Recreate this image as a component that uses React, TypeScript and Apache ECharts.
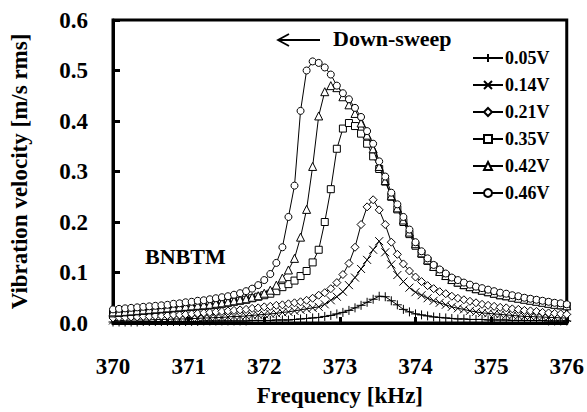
import React, { useEffect, useRef } from "react";
import * as echarts from "echarts";

// Frequency grid [kHz]
const freqs = [
  370.00, 370.08, 370.16, 370.24, 370.32, 370.40, 370.48, 370.56, 370.64, 370.72,
  370.80, 370.88, 370.96, 371.04, 371.12, 371.20, 371.28, 371.36, 371.44, 371.52,
  371.60, 371.68, 371.76, 371.84, 371.92, 372.00, 372.08, 372.16, 372.24, 372.32,
  372.40, 372.48, 372.56, 372.64, 372.72, 372.80, 372.88, 372.96, 373.04, 373.12,
  373.20, 373.28, 373.36, 373.44, 373.52, 373.60, 373.68, 373.76, 373.84, 373.92,
  374.00, 374.08, 374.16, 374.24, 374.32, 374.40, 374.48, 374.56, 374.64, 374.72,
  374.80, 374.88, 374.96, 375.04, 375.12, 375.20, 375.28, 375.36, 375.44, 375.52,
  375.60, 375.68, 375.76, 375.84, 375.92, 376.00,
];

const v005 = [
  0.002, 0.002, 0.002, 0.002, 0.002, 0.003, 0.003, 0.003, 0.003, 0.003,
  0.003, 0.003, 0.003, 0.003, 0.003, 0.004, 0.004, 0.004, 0.004, 0.004,
  0.004, 0.004, 0.004, 0.005, 0.005, 0.005, 0.005, 0.006, 0.006, 0.006,
  0.007, 0.008, 0.009, 0.010, 0.011, 0.013, 0.015, 0.018, 0.021, 0.025,
  0.030, 0.035, 0.041, 0.047, 0.053, 0.052, 0.044, 0.036, 0.027, 0.022,
  0.018, 0.016, 0.014, 0.012, 0.011, 0.010, 0.009, 0.008, 0.008, 0.007,
  0.007, 0.007, 0.006, 0.006, 0.006, 0.006, 0.005, 0.005, 0.005, 0.005,
  0.005, 0.005, 0.004, 0.004, 0.004, 0.004,
];

const v014 = [
  0.005, 0.005, 0.005, 0.006, 0.006, 0.006, 0.006, 0.007, 0.007, 0.007,
  0.008, 0.008, 0.008, 0.009, 0.009, 0.010, 0.010, 0.011, 0.011, 0.012,
  0.013, 0.013, 0.014, 0.015, 0.016, 0.017, 0.018, 0.019, 0.021, 0.022,
  0.024, 0.026, 0.028, 0.030, 0.032, 0.037, 0.045, 0.052, 0.062, 0.075,
  0.090, 0.107, 0.125, 0.145, 0.162, 0.140, 0.116, 0.095, 0.082, 0.070,
  0.061, 0.055, 0.049, 0.044, 0.040, 0.036, 0.032, 0.029, 0.027, 0.024,
  0.022, 0.020, 0.019, 0.018, 0.017, 0.016, 0.015, 0.014, 0.013, 0.013,
  0.012, 0.012, 0.011, 0.011, 0.010, 0.010,
];

const v021 = [
  0.010, 0.011, 0.011, 0.012, 0.012, 0.013, 0.013, 0.014, 0.014, 0.015,
  0.016, 0.016, 0.017, 0.018, 0.019, 0.020, 0.021, 0.022, 0.023, 0.024,
  0.025, 0.026, 0.027, 0.029, 0.030, 0.032, 0.033, 0.035, 0.036, 0.038,
  0.040, 0.042, 0.045, 0.049, 0.055, 0.060, 0.068, 0.080, 0.096, 0.118,
  0.150, 0.195, 0.230, 0.244, 0.224, 0.195, 0.160, 0.136, 0.117, 0.103,
  0.091, 0.082, 0.074, 0.068, 0.062, 0.058, 0.053, 0.049, 0.046, 0.043,
  0.040, 0.037, 0.035, 0.033, 0.031, 0.030, 0.028, 0.027, 0.025, 0.024,
  0.023, 0.021, 0.020, 0.019, 0.018, 0.017,
];

const v035 = [
  0.019, 0.020, 0.021, 0.022, 0.023, 0.024, 0.025, 0.026, 0.027, 0.028,
  0.029, 0.030, 0.031, 0.032, 0.033, 0.034, 0.035, 0.036, 0.038, 0.040,
  0.042, 0.044, 0.046, 0.049, 0.052, 0.055, 0.058, 0.063, 0.071, 0.077,
  0.084, 0.093, 0.103, 0.120, 0.145, 0.200, 0.265, 0.345, 0.385, 0.396,
  0.390, 0.375, 0.355, 0.330, 0.305, 0.280, 0.250, 0.225, 0.200, 0.176,
  0.153, 0.137, 0.123, 0.112, 0.102, 0.093, 0.086, 0.080, 0.075, 0.071,
  0.067, 0.064, 0.061, 0.058, 0.055, 0.053, 0.051, 0.049, 0.047, 0.045,
  0.043, 0.041, 0.039, 0.037, 0.035, 0.034,
];

const v042 = [
  0.022, 0.022, 0.023, 0.024, 0.025, 0.026, 0.027, 0.028, 0.029, 0.030,
  0.031, 0.032, 0.033, 0.034, 0.035, 0.036, 0.037, 0.039, 0.040, 0.042,
  0.044, 0.046, 0.048, 0.051, 0.054, 0.059, 0.065, 0.075, 0.089, 0.105,
  0.128, 0.170, 0.225, 0.310, 0.410, 0.458, 0.470, 0.466, 0.448, 0.432,
  0.415, 0.396, 0.372, 0.345, 0.310, 0.282, 0.252, 0.228, 0.204, 0.180,
  0.157, 0.139, 0.125, 0.112, 0.102, 0.094, 0.086, 0.081, 0.076, 0.072,
  0.068, 0.065, 0.062, 0.059, 0.056, 0.054, 0.051, 0.049, 0.047, 0.045,
  0.043, 0.041, 0.039, 0.037, 0.036, 0.034,
];

const v046 = [
  0.027, 0.028, 0.029, 0.030, 0.031, 0.032, 0.033, 0.034, 0.035, 0.036,
  0.038, 0.039, 0.041, 0.042, 0.044, 0.045, 0.047, 0.049, 0.051, 0.053,
  0.056, 0.059, 0.063, 0.068, 0.075, 0.085, 0.097, 0.119, 0.150, 0.210,
  0.272, 0.420, 0.500, 0.518, 0.515, 0.506, 0.492, 0.470, 0.455, 0.443,
  0.426, 0.408, 0.380, 0.355, 0.320, 0.290, 0.258, 0.235, 0.210, 0.185,
  0.160, 0.142, 0.128, 0.115, 0.106, 0.098, 0.090, 0.085, 0.080, 0.076,
  0.072, 0.069, 0.066, 0.063, 0.060, 0.058, 0.055, 0.053, 0.050, 0.048,
  0.046, 0.044, 0.042, 0.040, 0.039, 0.037,
];

const seriesNames = ["0.05V", "0.14V", "0.21V", "0.35V", "0.42V", "0.46V"];
const seriesValues = [v005, v014, v021, v035, v042, v046];
const xTicks = [370, 371, 372, 373, 374, 375, 376];
const yTicks = [0, 0.1, 0.2, 0.3, 0.4, 0.5, 0.6];

const FONT = "'Liberation Serif', 'Times New Roman', serif";

const markerDefs = [
  { symbol: "path://M5,0L5,10M0,5L10,5", size: 9 },
  { symbol: "path://M0,0L10,10M10,0L0,10", size: 8 },
  { symbol: "diamond", size: 8 },
  { symbol: "rect", size: 7 },
  { symbol: "triangle", size: 8 },
  { symbol: "circle", size: 7 },
];

export default function App() {
  const ref = useRef<HTMLDivElement>(null);
  useEffect(() => {
    if (!ref.current) return;
    const chart = echarts.init(ref.current, null, { renderer: "svg" });
    const series = seriesNames.map((name, k) => ({
      name,
      type: "line",
      data: freqs.map((f, i) => [f, seriesValues[k][i]]),
      symbol: markerDefs[k].symbol,
      symbolSize: markerDefs[k].size,
      showAllSymbol: true,
      lineStyle: { color: "#000", width: 1 },
      itemStyle: { color: "#fff", borderColor: "#000", borderWidth: 1 },
      emphasis: { disabled: true },
      z: 2 + k,
    }));
    chart.setOption({
      animation: false,
      backgroundColor: "#fff",
      grid: {
        left: 113,
        right: 19,
        top: 20,
        bottom: 89,
        show: true,
        borderColor: "#000",
        borderWidth: 3,
        backgroundColor: "transparent",
      },
      xAxis: {
        type: "value",
        min: xTicks[0],
        max: xTicks[xTicks.length - 1],
        interval: 1,
        name: "Frequency [kHz]",
        nameLocation: "middle",
        nameGap: 61,
        nameTextStyle: { fontFamily: FONT, fontWeight: "bold", fontSize: 23, color: "#000" },
        axisLine: { lineStyle: { color: "#000", width: 3 } },
        axisTick: { inside: true, length: 6, lineStyle: { color: "#000", width: 3 } },
        axisLabel: {
          margin: 32,
          fontFamily: FONT,
          fontWeight: "bold",
          fontSize: 23,
          color: "#000",
          formatter: (v: number) => String(v),
        },
        splitLine: { show: false },
      },
      yAxis: {
        type: "value",
        min: yTicks[0],
        max: yTicks[yTicks.length - 1],
        interval: 0.1,
        name: "Vibration velocity [m/s rms]",
        nameLocation: "middle",
        nameGap: 82,
        nameTextStyle: { fontFamily: FONT, fontWeight: "bold", fontSize: 23, color: "#000" },
        axisLine: { lineStyle: { color: "#000", width: 3 } },
        axisTick: { inside: true, length: 7, lineStyle: { color: "#000", width: 3 } },
        axisLabel: {
          margin: 25,
          fontFamily: FONT,
          fontWeight: "bold",
          fontSize: 23,
          color: "#000",
          formatter: (v: number) => v.toFixed(1),
        },
        splitLine: { show: false },
      },
      legend: {
        orient: "vertical",
        left: 467,
        top: 44,
        itemWidth: 30,
        itemHeight: 10,
        itemGap: 9,
        data: seriesNames,
        textStyle: { fontFamily: FONT, fontWeight: "bold", fontSize: 18, color: "#000", padding: [0, 0, 0, -3] },
        selectedMode: false,
      },
      graphic: [
        {
          type: "text",
          left: 333,
          top: 27,
          style: { text: "Down-sweep", font: `bold 22px ${FONT}`, fill: "#000" },
        },
        {
          type: "line",
          shape: { x1: 278, y1: 40, x2: 320, y2: 40 },
          style: { stroke: "#000", lineWidth: 1.8 },
        },
        {
          type: "polyline",
          shape: { points: [[289, 34], [278, 40], [289, 46]] },
          style: { stroke: "#000", lineWidth: 1.8, fill: "none" },
        },
        {
          type: "text",
          left: 145,
          top: 245,
          style: { text: "BNBTM", font: `bold 22px ${FONT}`, fill: "#000" },
        },
      ],
      series,
    });
    return () => chart.dispose();
  }, []);
  return (
    <div
      ref={ref}
      style={{ position: "fixed", left: 0, top: 0, width: 587, height: 412, background: "#fff" }}
    />
  );
}
